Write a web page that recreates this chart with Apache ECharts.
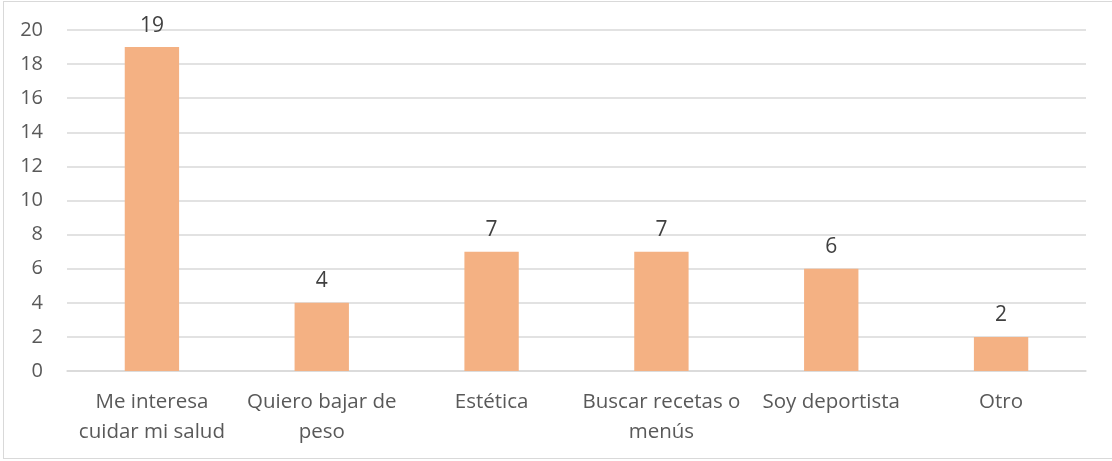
<!DOCTYPE html>
<html>
<head>
<meta charset="utf-8">
<script src="https://cdn.jsdelivr.net/npm/echarts@6/dist/echarts.min.js"></script>
<style>
html,body{margin:0;padding:0;background:#fff;overflow:hidden;}
#wrap{position:relative;width:1112px;height:461px;overflow:hidden;}
#frame{position:absolute;left:3px;top:1px;width:1300px;height:458px;border:1.5px solid #d9d9d9;border-right:none;box-sizing:border-box;}
#chart{position:absolute;left:0;top:0;width:1112px;height:461px;}
</style>
</head>
<body>
<div id="wrap"><div id="frame"></div><div id="chart"></div></div>
<script>
const categories = ["Me interesa\ncuidar mi salud", "Quiero bajar de\npeso", "Estética", "Buscar recetas o\nmenús", "Soy deportista", "Otro"];
const values = [19, 4, 7, 7, 6, 2];
const yMin = 0, yMax = 20, yStep = 2;

const chart = echarts.init(document.getElementById('chart'), null, {renderer: 'canvas'});
const font = '"Open Sans", Lato, sans-serif';
chart.setOption({
  animation: false,
  grid: {left: 67, right: 26, top: 30, bottom: 90, containLabel: false},
  xAxis: {
    type: 'category',
    data: categories,
    axisTick: {show: false},
    axisLine: {show: true, lineStyle: {color: '#d9d9d9', width: 1.5}},
    axisLabel: {interval: 0, color: '#595959', fontFamily: font, fontSize: 20.5, margin: 16, lineHeight: 30}
  },
  yAxis: {
    type: 'value', min: yMin, max: yMax, interval: yStep,
    axisLine: {show: false}, axisTick: {show: false},
    splitLine: {lineStyle: {color: '#d9d9d9', width: 1.5}},
    axisLabel: {color: '#595959', fontFamily: font, fontSize: 20, margin: 24}
  },
  series: [{
    type: 'bar',
    data: values,
    barWidth: '32%',
    itemStyle: {color: '#F4B183'},
    label: {show: true, position: 'top', distance: 11, color: '#404040', fontFamily: font, fontSize: 21}
  }]
});
</script>
</body>
</html>
